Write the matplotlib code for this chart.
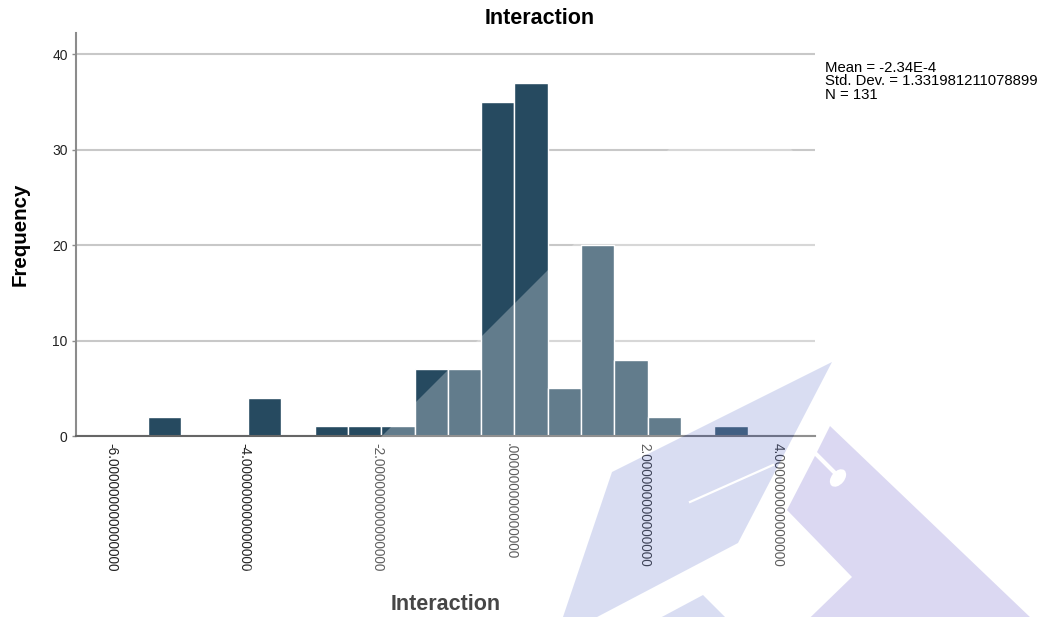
import numpy as np
import matplotlib
matplotlib.use("Agg")
import matplotlib.pyplot as plt
from matplotlib.path import Path
from matplotlib.patches import PathPatch, Polygon, Ellipse
from matplotlib.lines import Line2D
from matplotlib.transforms import Affine2D

plt.rcParams['font.family'] = ['Liberation Sans', 'DejaVu Sans']

# histogram of the Interaction variable (bins of width 0.5)
bin_width = 0.5
bin_left = [-5.45, -3.95, -2.95, -2.45, -1.95, -1.45, -0.95, -0.45,
            0.05, 0.55, 1.05, 1.55, 2.05, 3.05]
counts = [2, 4, 1, 1, 1, 7, 7, 35, 37, 5, 20, 8, 2, 1]

x_ticks = [-6, -4, -2, 0, 2, 4]
x_tick_labels = ['-6.000000000000000', '-4.000000000000000', '-2.000000000000000',
                 '.000000000000000', '2.000000000000000', '4.000000000000000']
y_ticks = [0, 10, 20, 30, 40]

stats = ['Mean = -2.34E-4', 'Std. Dev. = 1.331981211078899', 'N = 131']

W, H = 1040, 617
fig = plt.figure(figsize=(W / 100, H / 100), dpi=100)
ax = fig.add_axes([76 / W, 1 - 436 / H, (815 - 76) / W, (436 - 33) / H])

ax.bar(bin_left, counts, width=bin_width, align='edge', color='#264a60',
       edgecolor='white', linewidth=1.0, zorder=3)

ax.set_xlim(-6.53, 4.56)
ax.set_ylim(0, 42.2)
ax.set_yticks(y_ticks)
ax.set_xticks(x_ticks)
ax.set_xticklabels(x_tick_labels, rotation=-90, va='top', ha='center')
ax.yaxis.grid(True, color='#c8c8c8', linewidth=1.5, zorder=0)
ax.set_axisbelow(True)

for s in ['top', 'right']:
    ax.spines[s].set_visible(False)
ax.spines['left'].set_color('#8c8c8c')
ax.spines['left'].set_linewidth(1.5)
ax.spines['bottom'].set_color('#666666')
ax.spines['bottom'].set_linewidth(1.5)
ax.spines['bottom'].set_zorder(4)
ax.tick_params(axis='y', length=3, width=1, color='#8c8c8c', pad=3,
               labelsize=10, labelcolor='#222222')
ax.tick_params(axis='x', length=0, pad=5, labelsize=9.8, labelcolor='#222222')

fig.text(539.5 / W, 1 - 18 / H, 'Interaction', ha='center', va='center',
         fontsize=15.5, fontweight='bold')
fig.text(445.5 / W, 1 - 604 / H, 'Interaction', ha='center', va='center',
         fontsize=15.5, fontweight='bold')
fig.text(20 / W, 1 - 234 / H, 'Frequency', ha='center', va='center',
         rotation=90, fontsize=14.8, fontweight='bold')
fig.text(825 / W, 1 - 61 / H, '\n'.join(stats), ha='left', va='top',
         fontsize=10.7, linespacing=0.95)

# logo overlay, placed in pixel coordinates (origin top-left)
pix = Affine2D().scale(1 / W, -1 / H).translate(0, 1) + fig.transFigure

cap = np.array([(832, 362), (612, 472), (555.6, 638.8), (738, 543)])
haze = np.array([(730, 88), (1259, 617), (201, 617)])
haze_path = Path.make_compound_path(
    Path(np.vstack([haze, haze[:1]]), closed=True),
    Path(np.vstack([cap, cap[:1]]), closed=True))
fig.add_artist(PathPatch(haze_path, transform=pix, facecolor='white',
                         edgecolor='none', alpha=0.28, zorder=5))

fig.add_artist(Polygon(cap, closed=True, transform=pix, facecolor='#8291d7',
                       edgecolor='none', alpha=0.3, zorder=6))
band = [(830, 426), (1054, 640), (787, 640), (852, 577), (787, 510), (817, 452)]
fig.add_artist(Polygon(band, closed=True, transform=pix, facecolor='#8a80d4',
                       edgecolor='none', alpha=0.3, zorder=6))
tip = [(703, 595), (750, 642), (615, 642)]
fig.add_artist(Polygon(tip, closed=True, transform=pix, facecolor='#8291d7',
                       edgecolor='none', alpha=0.3, zorder=6))

fig.add_artist(Line2D([690, 773], [502, 465], transform=pix, color='white',
                      linewidth=1.6, zorder=7))
fig.add_artist(Line2D([815, 836], [453, 474], transform=pix, color='white',
                      linewidth=3, zorder=7))
fig.add_artist(Ellipse((838, 478), 13, 20, angle=40, transform=pix,
                       facecolor='white', edgecolor='none', zorder=7))

fig.savefig('out.png', dpi=100)
